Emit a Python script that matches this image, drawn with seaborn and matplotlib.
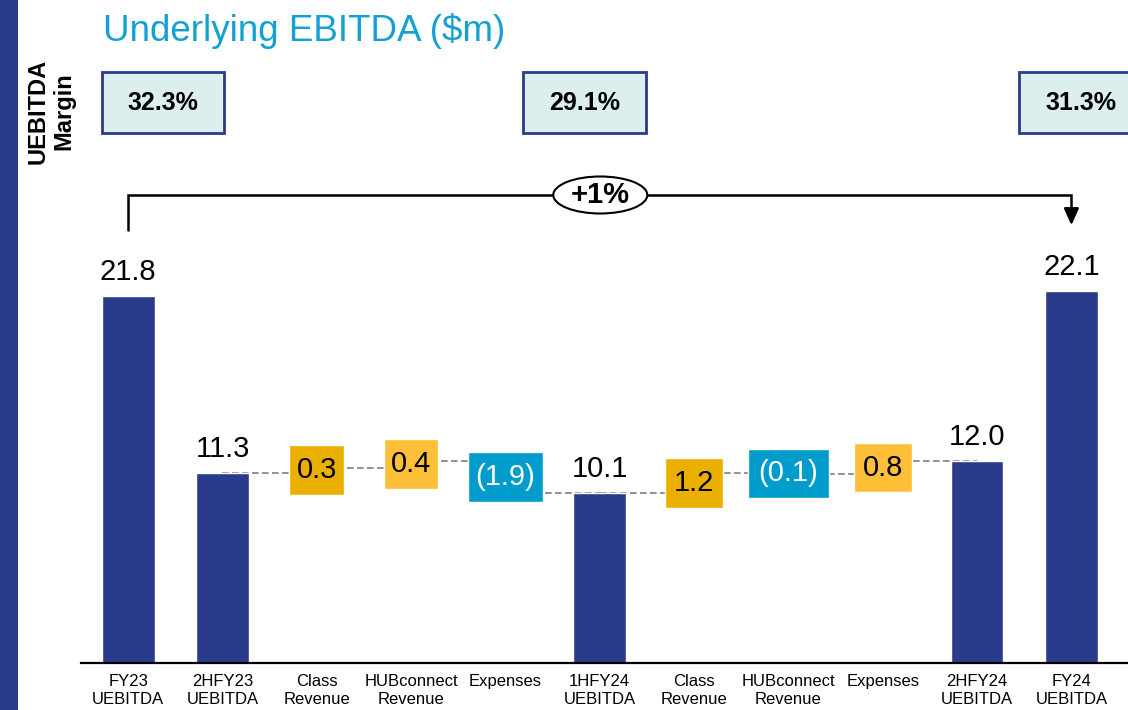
import numpy as np
import pandas as pd
import matplotlib.pyplot as plt
import seaborn as sns
from matplotlib.patches import Rectangle, Ellipse

sns.set_style("white")
plt.rcParams['font.family'] = ['Liberation Sans', 'DejaVu Sans']
plt.rcParams['text.color'] = 'black'
plt.rcParams['xtick.color'] = 'black'

# data
categories = ['FY23\nUEBITDA', '2HFY23\nUEBITDA', 'Class\nRevenue', 'HUBconnect\nRevenue', 'Expenses',
              '1HFY24\nUEBITDA', 'Class\nRevenue', 'HUBconnect\nRevenue', 'Expenses',
              '2HFY24\nUEBITDA', 'FY24\nUEBITDA']
step_kind = ['total', 'total', 'delta', 'delta', 'delta', 'total', 'delta', 'delta', 'delta', 'total', 'total']
step_values = [21.8, 11.3, 0.3, 0.4, -1.9, 10.1, 1.2, -0.1, 0.8, 12.0, 22.1]
margin_labels = ['32.3%', '29.1%', '31.3%']
change_label = '+1%'

# colours / styles
navy = '#2A3B8B'
delta_colors = {2: '#EBAF00', 3: '#FDBE38', 4: '#009CCB', 6: '#EBAF00', 7: '#009CCB', 8: '#FDBE38'}
delta_widths = {2: 0.58, 3: 0.58, 4: 0.80, 6: 0.61, 7: 0.85, 8: 0.61}
min_box = 2.95

df = pd.DataFrame({'pos': np.arange(len(categories)), 'kind': step_kind, 'value': step_values})
df['height'] = np.where(df['kind'] == 'total', df['value'], 0.0)

fig = plt.figure(figsize=(11.28, 7.10), dpi=100)
ax = fig.add_axes([81 / 1128, 47 / 710, 1047 / 1128, 663 / 710])

sns.barplot(data=df, x='pos', y='height', order=list(df['pos']), color=navy, saturation=1,
            width=0.56, errorbar=None, ax=ax, zorder=2)

# floating change boxes + dashed connectors
level = None
for i, (kind, v) in enumerate(zip(step_kind, step_values)):
    if kind == 'total':
        if level is not None and step_kind[i - 1] == 'delta':
            ax.plot([i - 1, i], [level, level], color='#7F7F7F', ls=(0, (4, 2)), lw=1.2, zorder=0.5)
        level = v
        ax.annotate(f'{v:.1f}', (i, v), xytext=(0, 17), textcoords='offset points',
                    ha='center', va='center', fontsize=21)
    else:
        start, end = level, level + v
        ax.plot([i - 1, i], [start, start], color='#7F7F7F', ls=(0, (4, 2)), lw=1.2, zorder=0.5)
        mid = (start + end) / 2
        h = max(abs(v), min_box)
        ax.bar(i, h, bottom=mid - h / 2, width=delta_widths[i], color=delta_colors[i], zorder=3)
        txt = f'{v:.1f}' if v >= 0 else f'({abs(v):.1f})'
        tc = 'white' if v < 0 else 'black'
        ax.text(i, mid, txt, ha='center', va='center', fontsize=21, color=tc, zorder=4)
        level = end

ax.set_xlim(-0.5, 10.60)
ax.set_ylim(0, 663 / 16.85)
ax.set_xticks(range(len(categories)))
ax.set_xticklabels(categories, fontsize=12, linespacing=1.25)
ax.tick_params(axis='x', length=0, pad=8)
ax.set_yticks([])
ax.set_xlabel('')
ax.set_ylabel('')
for s in ['top', 'right', 'left']:
    ax.spines[s].set_visible(False)
ax.spines['bottom'].set_color('black')
ax.spines['bottom'].set_linewidth(1.6)

# margin boxes
pxu = 94.3
def px_to_x(px):
    return (px - 128) / pxu
def px_to_y(py):
    return (663 - py) / 16.85

for (l, r), lab in zip([(102, 224), (523, 646), (1019, 1142)], margin_labels):
    x0, x1 = px_to_x(l), px_to_x(r)
    y0, y1 = px_to_y(133), px_to_y(72)
    ax.add_patch(Rectangle((x0, y0), x1 - x0, y1 - y0, facecolor='#DCEFEE', edgecolor=navy,
                           lw=2, clip_on=False, zorder=5))
    ax.text((x0 + x1) / 2, (y0 + y1) / 2, lab, ha='center', va='center', fontsize=18,
            fontweight='bold', clip_on=False, zorder=6)

# bracket with change label
yb = px_to_y(195)
first, last = 0, len(categories) - 1
ax.plot([first, first, last, last], [px_to_y(230), yb, yb, px_to_y(212)], color='black', lw=1.8,
        clip_on=False, zorder=5, solid_joinstyle='miter')
ax.annotate('', xy=(last, px_to_y(228)), xytext=(last, px_to_y(208)),
            arrowprops=dict(arrowstyle='-|>,head_width=0.45,head_length=1.0', color='black', lw=1.8),
            annotation_clip=False)
ax.add_patch(Ellipse((px_to_x(600), yb), 94 / pxu, 37 / 16.85, facecolor='white', edgecolor='black',
                     lw=1.5, zorder=6, clip_on=False))
ax.text(px_to_x(600), yb, change_label, ha='center', va='center', fontsize=21, fontweight='bold', zorder=7)

# decorations
fig.patches.append(Rectangle((0, 0), 18 / 1128, 1, transform=fig.transFigure, facecolor=navy,
                             edgecolor='none', zorder=0))
fig.text(103 / 1128, 1 - 31 / 710, 'Underlying EBITDA ($m)', fontsize=26.5, color='#13A0D2',
         ha='left', va='center')
fig.text(51 / 1128, 1 - 111 / 710, 'UEBITDA\nMargin', rotation=90, fontsize=17, fontweight='bold',
         ha='center', va='center', multialignment='center', linespacing=1.15)

fig.savefig('out.png', dpi=100)
